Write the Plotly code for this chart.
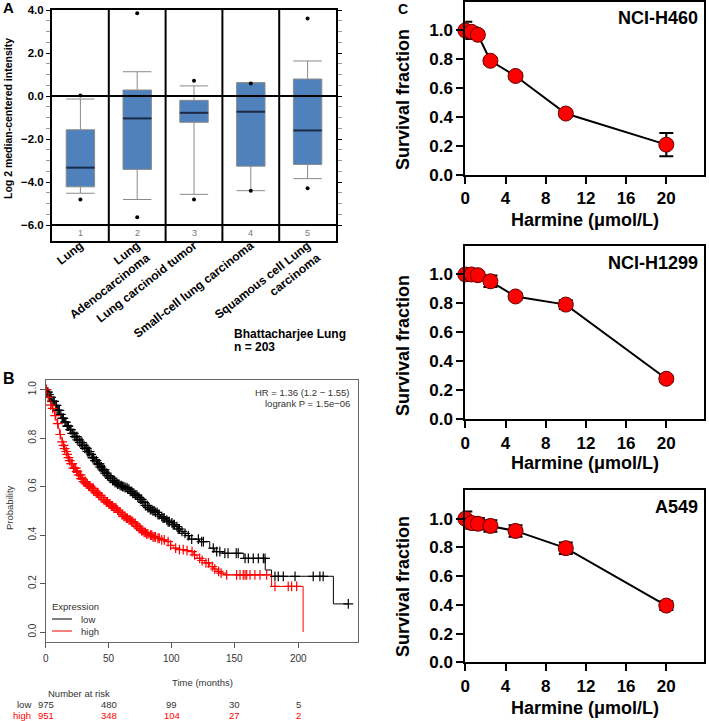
import numpy as np
import plotly.graph_objects as go

W, H = 709, 721
FONT = "Arial, Liberation Sans, sans-serif"

# ---------------- Panel A data (box plot, Oncomine) ----------------
a_categories = ["Lung", "Lung<br>Adenocarcinoma", "Lung carcinoid tumor",
                "Small-cell lung carcinoma", "Squamous cell Lung<br>carcinoma"]
a_index = ["1", "2", "3", "4", "5"]
a_pos = [1, 2, 3, 4, 5]
a_lower = [-4.52, -4.81, -4.57, -4.40, -3.84]
a_q1 = [-4.22, -3.41, -1.22, -3.26, -3.18]
a_median = [-3.33, -1.04, -0.78, -0.73, -1.60]
a_q3 = [-1.57, 0.28, -0.20, 0.62, 0.79]
a_upper = [-0.14, 1.13, 0.47, 0.62, 1.63]
a_out_pos = [1, 1, 2, 2, 3, 3, 4, 4, 5, 5]
a_out_val = [0.02, -4.81, 3.85, -5.64, 0.71, -4.81, 0.58, -4.40, 3.61, -4.29]
a_yticks = [-6, -4, -2, 0, 2, 4]

# ---------------- Panel B data (Kaplan-Meier) ----------------
low_t = [0, 1, 2, 3, 5, 7, 9, 11, 13, 15, 17, 19, 21, 23, 25, 27, 29, 31, 33, 35, 37, 39,
         41, 43, 45, 47, 49, 51, 53, 55, 57, 59, 61, 63, 65, 67, 69, 71, 73, 75, 77, 79,
         81, 83, 85, 87, 89, 91, 93, 95, 97, 99, 101, 103, 105, 107, 109, 111, 114, 122,
         130, 134, 140, 157, 174, 179, 228, 240]
low_s = [1.0, 0.99, 0.98, 0.968, 0.952, 0.935, 0.915, 0.898, 0.882, 0.866, 0.85, 0.835,
         0.82, 0.806, 0.793, 0.782, 0.77, 0.758, 0.745, 0.733, 0.72, 0.707, 0.694, 0.681,
         0.669, 0.656, 0.645, 0.634, 0.625, 0.617, 0.61, 0.604, 0.60, 0.596, 0.59, 0.58,
         0.572, 0.565, 0.556, 0.547, 0.535, 0.522, 0.513, 0.505, 0.50, 0.494, 0.485,
         0.476, 0.47, 0.462, 0.455, 0.45, 0.443, 0.435, 0.425, 0.415, 0.407, 0.398,
         0.383, 0.373, 0.346, 0.332, 0.325, 0.304, 0.256, 0.23, 0.116, 0.116]
high_t = [0, 1, 2, 3, 4, 5, 6, 7, 8, 9, 10, 11, 12, 13, 14, 15, 16, 17, 18, 19, 20, 22,
          24, 26, 28, 30, 32, 34, 36, 38, 40, 42, 44, 46, 48, 50, 52, 54, 56, 58, 60, 62,
          64, 66, 68, 70, 72, 74, 76, 78, 80, 82, 85, 88, 92, 96, 99, 101, 105, 110, 114,
          117, 120, 123, 126, 130, 133, 136, 138, 141, 179, 204]
high_s = [1.0, 0.985, 0.968, 0.95, 0.936, 0.923, 0.91, 0.893, 0.876, 0.86, 0.838, 0.815,
          0.80, 0.785, 0.77, 0.757, 0.745, 0.733, 0.72, 0.707, 0.695, 0.676, 0.662, 0.648,
          0.633, 0.621, 0.611, 0.602, 0.593, 0.583, 0.573, 0.564, 0.555, 0.546, 0.537,
          0.529, 0.52, 0.511, 0.503, 0.494, 0.485, 0.477, 0.47, 0.463, 0.456, 0.448,
          0.437, 0.427, 0.418, 0.411, 0.405, 0.40, 0.393, 0.387, 0.38, 0.373, 0.358,
          0.346, 0.34, 0.336, 0.332, 0.318, 0.304, 0.295, 0.285, 0.27, 0.26, 0.25, 0.243,
          0.236, 0.188, 0.0]
low_censor = [0.5, 1, 1.8, 2.5, 3.5, 4.2, 5, 6, 6.7, 8, 8.6, 9, 10, 10.8, 12, 13, 13.6, 14,
              15.2, 16, 17, 17.6, 18, 19.4, 20, 21, 22.3, 23, 24, 24.7, 25, 26.4, 27, 28,
              28.8, 29, 30.3, 31, 32, 32.6, 33, 34, 34.8, 36, 37, 37.5, 38, 39, 40.2, 41,
              42, 42.7, 43, 44.1, 45, 46, 46.6, 47, 48.3, 49, 50, 51, 51.8, 53, 54, 54.6,
              55, 56.3, 57, 58, 59, 60.2, 61, 62, 63, 64.4, 65, 66, 67, 68.2, 69, 70, 71,
              72.3, 73, 74, 75, 76.1, 77, 78, 79, 80.4, 81, 82, 83, 84.2, 85, 86, 87, 88.3,
              89, 90, 92, 93, 94, 96, 97, 98, 100, 101, 102, 104, 105, 106, 108, 110.4, 113,
              115.7, 121, 123.6, 125, 132.8, 135.5, 138, 142, 144.5, 151, 152.6, 158,
              160.6, 164.5, 168.5, 172.5, 173.8, 181.7, 184.3, 188.3, 197.6, 212, 217.3,
              219.9, 239.8]
high_censor = [0.5, 2, 4, 5.5, 7.5, 9.5, 11.5, 13, 14.2, 15, 16.3, 17, 18, 19, 20.2, 21,
               22, 23, 23.8, 24.6, 25, 26, 27, 27.7, 28, 29, 30, 31, 31.6, 32, 33, 34,
               34.7, 35, 36, 37, 37.8, 38, 39, 40, 41, 41.5, 42, 43, 44, 44.6, 46, 47, 48,
               48.5, 49, 50, 51, 52, 52.7, 53, 54, 55, 55.8, 57, 58, 59, 60.4, 61, 62, 63,
               64, 64.7, 66, 67, 68, 69, 70, 71, 72, 73, 74, 75, 76, 77, 78, 79, 80, 81, 83,
               84, 85, 86, 87, 89, 90, 92, 94, 97, 99, 103, 106, 109, 112, 116, 118, 122,
               124, 127, 129, 132, 134, 137, 139, 143.4, 151.3, 154, 156.6, 158, 159.3,
               161.9, 165.8, 169.8, 175.1, 181.7, 192.2, 194.9, 198.9]
risk_times = [0, 50, 100, 150, 200]
risk_low = [975, 480, 99, 30, 5]
risk_high = [951, 348, 104, 27, 2]
b_xticks = [0, 50, 100, 150, 200]
b_yticks = [0.0, 0.2, 0.4, 0.6, 0.8, 1.0]

# ---------------- Panel C data (dose response) ----------------
conc = [0, 0.625, 1.25, 2.5, 5, 10, 20]
h460 = [1.0, 0.99, 0.97, 0.79, 0.685, 0.425, 0.21]
h460_err = [0.06, 0.03, 0.02, 0.02, 0.02, 0.02, 0.08]
h1299 = [1.0, 1.0, 0.995, 0.953, 0.848, 0.792, 0.28]
h1299_err = [0.02, 0.02, 0.02, 0.04, 0.02, 0.03, 0.02]
a549 = [1.0, 0.97, 0.965, 0.95, 0.915, 0.795, 0.395]
a549_err = [0.05, 0.04, 0.04, 0.04, 0.04, 0.04, 0.03]
cell_lines = ["NCI-H460", "NCI-H1299", "A549"]
c_xticks = [0, 4, 8, 12, 16, 20]
c_yticks = [0.0, 0.2, 0.4, 0.6, 0.8, 1.0]


def px(x):
    return x / W


def py(y):
    return 1 - y / H


def step_value(ts, ss, t):
    i = np.searchsorted(np.asarray(ts), np.asarray(t), side="right") - 1
    return np.asarray(ss)[i]


fig = go.Figure()

# ---- Panel A traces ----
fig.add_trace(go.Box(
    x=a_pos, q1=a_q1, median=a_median, q3=a_q3, lowerfence=a_lower, upperfence=a_upper,
    boxpoints=False, width=0.5, whiskerwidth=1, fillcolor="#4f81bd",
    line=dict(color="#8a8a8a", width=1), xaxis="x", yaxis="y", showlegend=False,
))
mx, my = [], []
for p, m in zip(a_pos, a_median):
    mx += [p - 0.25, p + 0.25, None]
    my += [m, m, None]
fig.add_trace(go.Scatter(x=mx, y=my, mode="lines", line=dict(color="#1b2a47", width=2),
                         xaxis="x", yaxis="y", showlegend=False, hoverinfo="skip"))
fig.add_trace(go.Scatter(x=a_out_pos, y=a_out_val, mode="markers",
                         marker=dict(color="black", size=4), xaxis="x", yaxis="y",
                         showlegend=False, cliponaxis=False))

# ---- Panel B traces ----
fig.add_trace(go.Scatter(x=low_t, y=low_s, mode="lines", line_shape="hv",
                         line=dict(color="black", width=1), xaxis="x2", yaxis="y2",
                         showlegend=False))
fig.add_trace(go.Scatter(x=high_t, y=high_s, mode="lines", line_shape="hv",
                         line=dict(color="#ff0000", width=1), xaxis="x2", yaxis="y2",
                         showlegend=False))
fig.add_trace(go.Scatter(x=low_censor, y=step_value(low_t, low_s, low_censor), mode="markers",
                         marker=dict(symbol="cross-thin", size=7, line=dict(color="black", width=1.2)),
                         xaxis="x2", yaxis="y2", showlegend=False))
fig.add_trace(go.Scatter(x=high_censor, y=step_value(high_t, high_s, high_censor), mode="markers",
                         marker=dict(symbol="cross-thin", size=7, line=dict(color="#ff0000", width=1.2)),
                         xaxis="x2", yaxis="y2", showlegend=False))

# ---- Panel C traces ----
c_series = [(h460, h460_err), (h1299, h1299_err), (a549, a549_err)]
for k, (vals, err) in enumerate(c_series):
    fig.add_trace(go.Scatter(
        x=conc, y=vals, mode="lines+markers",
        line=dict(color="black", width=2),
        marker=dict(size=15, color="#ff0000", line=dict(color="#600000", width=1)),
        error_y=dict(type="data", array=err, color="black", thickness=2, width=7),
        xaxis="x%d" % (k + 3), yaxis="y%d" % (k + 3), showlegend=False, cliponaxis=False,
    ))

# ---------------- Layout ----------------
bold = dict(family=FONT, color="black", weight="bold")

layout = dict(
    width=W, height=H, margin=dict(l=0, r=0, t=0, b=0),
    paper_bgcolor="white", plot_bgcolor="white", template="none",
    font=dict(family=FONT, color="black"), showlegend=False,
)

# Panel A axes
layout["xaxis"] = dict(domain=[px(52), px(336)], anchor="y", range=[0.5, 5.5],
                       tickmode="array", tickvals=a_pos, ticktext=a_categories,
                       tickangle=-38, ticks="", ticklabelstandoff=-9, showline=True,
                       mirror=True, linecolor="black", linewidth=2, showgrid=False,
                       zeroline=False, tickfont=dict(size=12, **bold), automargin=False)
layout["yaxis"] = dict(domain=[py(241), py(10)], anchor="x", range=[-6.74, 4.0],
                       tickmode="array", tickvals=a_yticks, tickformat=".1f",
                       ticks="outside", ticklen=4, tickcolor="black", showline=True,
                       mirror="allticks", linecolor="black", linewidth=2, showgrid=False,
                       zeroline=False, tickfont=dict(size=11.5, **bold), automargin=False,
                       minor=dict(tickvals=list(np.arange(-5.5, 4.0, 0.5)), ticklen=4,
                                  tickcolor="#999999", ticks="outside"))
# Panel B axes (x tick labels drawn as annotations below)
layout["xaxis2"] = dict(domain=[px(45.7), px(358)], anchor="y2", range=[0, 247.5],
                        tickmode="array", tickvals=b_xticks, ticks="outside", ticklen=5,
                        showticklabels=False,
                        tickcolor="#555555", showline=True, mirror=True, linecolor="#666666",
                        linewidth=1, showgrid=False, zeroline=False, automargin=False)
layout["yaxis2"] = dict(domain=[py(641.7), py(380)], anchor="x2", range=[-0.04, 1.04],
                        tickmode="array", tickvals=b_yticks, tickformat=".1f", ticks="outside",
                        ticklen=5, tickcolor="#555555", showline=True, mirror=True,
                        linecolor="#666666", linewidth=1, showgrid=False, zeroline=False,
                        tickangle=-90, tickfont=dict(size=10, color="#333333", family=FONT),
                        automargin=False)
# Panel C axes
c_ydom = [(175, 1.5), (419.3, 245.5), (662.3, 490)]
for k, (yb, yt) in enumerate(c_ydom):
    n = k + 3
    layout["xaxis%d" % n] = dict(domain=[px(465.3), px(703.5)], anchor="y%d" % n,
                                 range=[0, 23.7], tickmode="array", tickvals=c_xticks,
                                 ticks="outside", ticklen=7, tickwidth=2, tickcolor="black",
                                 showline=True, mirror=True, linecolor="black", linewidth=2,
                                 showgrid=False, zeroline=False,
                                 tickfont=dict(size=17, **bold), automargin=False)
    layout["yaxis%d" % n] = dict(domain=[py(yb), py(yt)], anchor="x%d" % n, range=[0, 1.2],
                                 tickmode="array", tickvals=c_yticks, tickformat=".1f",
                                 ticks="outside", ticklen=7, tickwidth=2, tickcolor="black",
                                 showline=True, mirror=True, linecolor="black", linewidth=2,
                                 showgrid=False, zeroline=False,
                                 tickfont=dict(size=17, **bold), automargin=False)

fig.update_layout(**layout)

# ---------------- Shapes ----------------
shapes = []
for yv in [0, -6]:
    shapes.append(dict(type="line", xref="x domain", yref="y", x0=0, x1=1, y0=yv, y1=yv,
                       line=dict(color="black", width=2)))
for p in a_pos[:-1]:
    shapes.append(dict(type="line", xref="x", yref="y domain", x0=p + 0.5, x1=p + 0.5,
                       y0=0, y1=1, line=dict(color="black", width=2)))
shapes.append(dict(type="line", xref="paper", yref="paper", x0=px(52), x1=px(72),
                   y0=py(619), y1=py(619), line=dict(color="black", width=1)))
shapes.append(dict(type="line", xref="paper", yref="paper", x0=px(52), x1=px(72),
                   y0=py(631), y1=py(631), line=dict(color="#ff0000", width=1)))
fig.update_layout(shapes=shapes)

# ---------------- Annotations ----------------
ann = []


def text(x, y, s, size, xanchor="center", yanchor="middle", angle=0, color="black",
         weight="normal"):
    ann.append(dict(x=px(x), y=py(y), xref="paper", yref="paper", text=s, showarrow=False,
                    xanchor=xanchor, yanchor=yanchor, textangle=angle,
                    font=dict(size=size, color=color, family=FONT, weight=weight)))


text(1, 8, "A", 15, xanchor="left", weight="bold")
text(1, 378, "B", 16, xanchor="left", weight="bold")
text(403, 9, "C", 14, weight="bold")

text(8, 119, "Log 2 median-centered intensity", 10.5, angle=-90, weight="bold")
for p, s in zip(a_pos, a_index):
    ann.append(dict(x=p, y=-6.37, xref="x", yref="y", text=s, showarrow=False,
                    xanchor="center", yanchor="middle",
                    font=dict(size=9, color="#777777", family=FONT)))
text(232, 334, "Bhattacharjee Lung", 12, xanchor="left", weight="bold")
text(232, 347, "n = 203", 12, xanchor="left", weight="bold")

text(352, 392, "HR = 1.36 (1.2 \u2212 1.55)", 9.5, xanchor="right", color="#333333")
text(352, 403, "logrank P = 1.5e\u221206", 9.5, xanchor="right", color="#333333")
text(50, 606, "Expression", 9.5, xanchor="left", color="#333333")
text(79, 619, "low", 9.5, xanchor="left", color="#333333")
text(79, 631, "high", 9.5, xanchor="left", color="#333333")
text(9, 508, "Probability", 9.5, angle=-90, color="#333333")
text(202, 682, "Time (months)", 9.5, color="#333333")
text(46, 693, "Number at risk", 9.5, xanchor="left", color="#333333")
text(33, 704, "low", 9.5, xanchor="right", color="#333333")
text(33, 715, "high", 9.5, xanchor="right", color="#ff0000")
for t in b_xticks:
    ann.append(dict(x=t, y=py(658), xref="x2", yref="paper", text=str(t), showarrow=False,
                    xanchor="center", yanchor="middle",
                    font=dict(size=10, color="#333333", family=FONT)))
for t, lo, hi in zip(risk_times, risk_low, risk_high):
    ann.append(dict(x=t, y=py(704), xref="x2", yref="paper", text=str(lo), showarrow=False,
                    xanchor="center", yanchor="middle",
                    font=dict(size=9.5, color="#333333", family=FONT)))
    ann.append(dict(x=t, y=py(715), xref="x2", yref="paper", text=str(hi), showarrow=False,
                    xanchor="center", yanchor="middle",
                    font=dict(size=9.5, color="#ff0000", family=FONT)))

c_ytitle = [100, 346, 587]
c_xtitle = [220, 463, 708]
c_name_y = [18, 263, 507]
for k in range(3):
    text(403, c_ytitle[k], "Survival fraction", 18, angle=-90, weight="bold")
    text(585, c_xtitle[k], "Harmine (\u03bcmol/L)", 18, weight="bold")
    text(700, c_name_y[k], cell_lines[k], 18, xanchor="right", weight="bold")

fig.update_layout(annotations=ann)

fig.write_html("out.html", config={"displayModeBar": False},
               post_script="document.body.style.margin='0px';"
                           "document.body.style.overflow='hidden';")
